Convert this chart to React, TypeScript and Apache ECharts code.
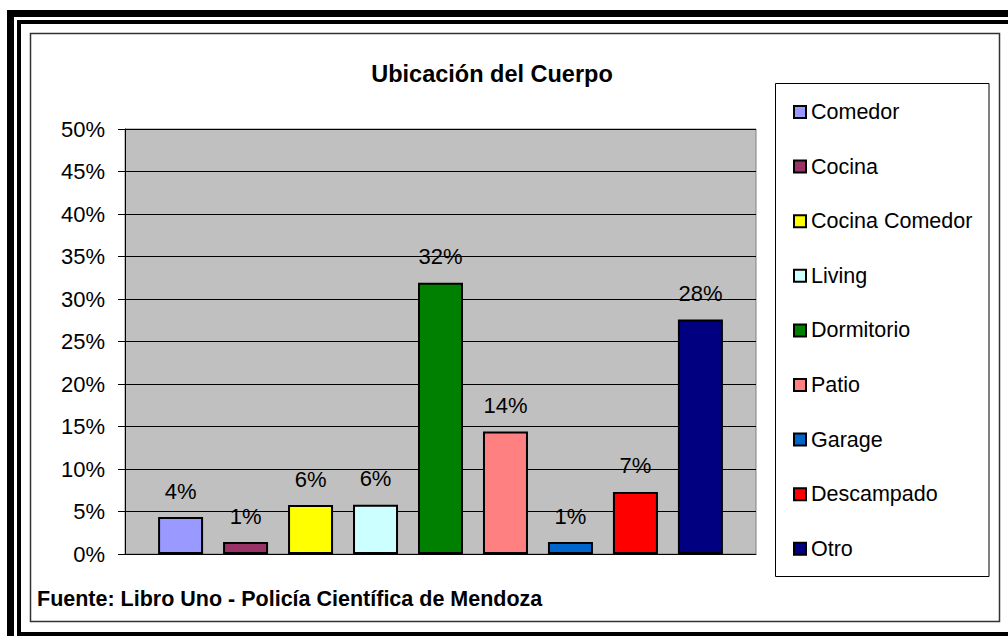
import React, { useEffect, useRef } from "react";
import * as echarts from "echarts";

const categories = [
  "Comedor",
  "Cocina",
  "Cocina Comedor",
  "Living",
  "Dormitorio",
  "Patio",
  "Garage",
  "Descampado",
  "Otro",
];
const values = [4.35, 1.4, 5.76, 5.8, 31.9, 14.4, 1.4, 7.3, 27.6];
const colors = [
  "#9999FF",
  "#993366",
  "#FFFF00",
  "#CCFFFF",
  "#008000",
  "#FF8080",
  "#0066CC",
  "#FF0000",
  "#000080",
];
const yTicks = { min: 0, max: 50, interval: 5 };
const titleText = "Ubicación del Cuerpo";
const sourceText = "Fuente: Libro Uno - Policía Científica de Mendoza";

const FONT = "Arial, 'Liberation Sans', sans-serif";

export default function App() {
  const ref = useRef<HTMLDivElement>(null);

  useEffect(() => {
    if (!ref.current) return;
    const chart = echarts.init(ref.current, undefined, { renderer: "svg" });
    const series = categories.map((name, i) => ({
      name,
      type: "bar",
      data: [values[i]],
      barWidth: 45,
      barGap: "44.4%",
      itemStyle: { color: colors[i], borderColor: "#000", borderWidth: 2 },
      label: {
        show: true,
        position: "top",
        distance: 15,
        color: "#000",
        fontFamily: FONT,
        fontSize: 22,
        formatter: (p: any) => Math.round(p.value) + "%",
      },
    }));
    chart.setOption({
      animation: false,
      backgroundColor: "#fff",
      title: {
        text: titleText,
        left: 492,
        top: 61,
        textAlign: "center",
        padding: 0,
        textStyle: {
          fontFamily: FONT,
          fontWeight: "bold",
          fontSize: 23.5,
          lineHeight: 26,
          color: "#000",
        },
      },
      legend: {
        orient: "vertical",
        left: 793,
        top: 101,
        padding: 0,
        itemWidth: 12,
        itemHeight: 12,
        itemGap: 32.6,
        icon: "rect",
        selectedMode: false,
        textStyle: {
          fontFamily: FONT,
          fontSize: 21.5,
          lineHeight: 21,
          color: "#000",
        },
        data: categories,
      },
      grid: {
        left: 125,
        right: 252,
        top: 129,
        bottom: 82,
        show: true,
        backgroundColor: "#C0C0C0",
        borderColor: "#808080",
        borderWidth: 1,
      },
      xAxis: {
        type: "category",
        data: [""],
        axisLine: { show: true, lineStyle: { color: "#000", width: 1 } },
        axisTick: { show: false },
        axisLabel: { show: false },
      },
      yAxis: {
        type: "value",
        min: yTicks.min,
        max: yTicks.max,
        interval: yTicks.interval,
        axisLine: { show: true, lineStyle: { color: "#000", width: 1 } },
        axisTick: { show: true, length: 7, lineStyle: { color: "#000" } },
        axisLabel: {
          formatter: "{value}%",
          margin: 20,
          color: "#000",
          fontFamily: FONT,
          fontSize: 22,
        },
        splitLine: { show: true, lineStyle: { color: "#000", width: 1 } },
      },
      graphic: [
        // outer double frame
        { type: "rect", silent: true, shape: { x: 7, y: 10, width: 7, height: 640 }, style: { fill: "#000" } },
        { type: "rect", silent: true, shape: { x: 7, y: 10, width: 1010, height: 7 }, style: { fill: "#000" } },
        { type: "rect", silent: true, shape: { x: 17, y: 20, width: 4, height: 620 }, style: { fill: "#000" } },
        { type: "rect", silent: true, shape: { x: 17, y: 20, width: 1000, height: 4 }, style: { fill: "#000" } },
        { type: "rect", silent: true, shape: { x: 17, y: 632, width: 1000, height: 4 }, style: { fill: "#000" } },
        // inner border
        {
          type: "rect",
          silent: true,
          shape: { x: 30.5, y: 33.5, width: 969, height: 588 },
          style: { fill: "none", stroke: "#333", lineWidth: 1.5 },
        },
        // legend box
        {
          type: "rect",
          silent: true,
          shape: { x: 775.5, y: 83.5, width: 213.5, height: 493 },
          style: { fill: "none", stroke: "#000", lineWidth: 1 },
        },
        {
          type: "text",
          silent: true,
          x: 37,
          y: 599,
          style: {
            text: sourceText,
            fontFamily: FONT,
            fontWeight: "bold",
            fontSize: 21.5,
            fill: "#000",
            verticalAlign: "middle",
            align: "left",
          },
        },
      ],
      series,
    });
    return () => chart.dispose();
  }, []);

  return (
    <div
      ref={ref}
      style={{ position: "fixed", left: 0, top: 0, width: 1008, height: 636 }}
    />
  );
}
